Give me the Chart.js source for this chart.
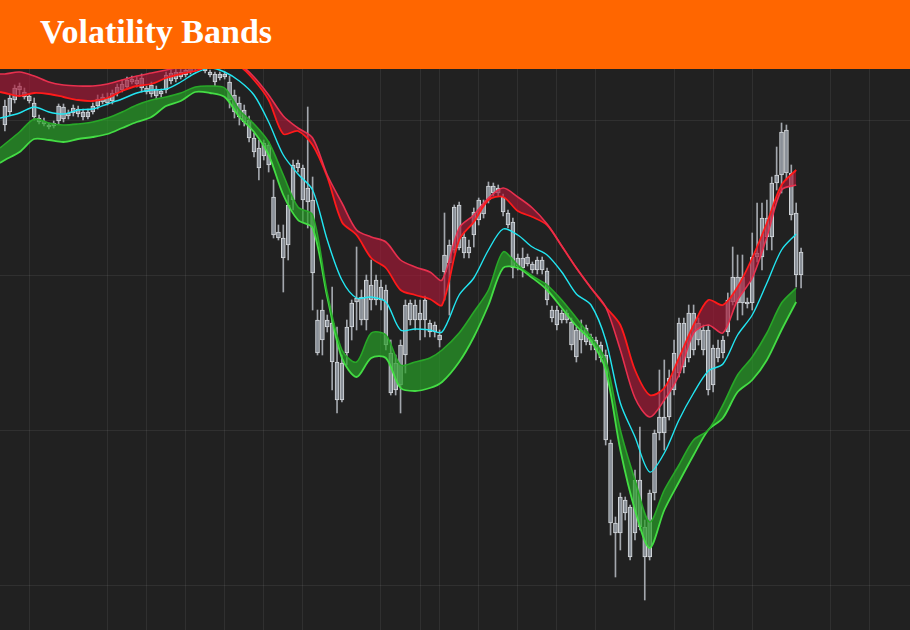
<!DOCTYPE html>
<html>
<head>
<meta charset="utf-8">
<title>Volatility Bands</title>
<script src="https://cdn.jsdelivr.net/npm/chart.js@4.4.1/dist/chart.umd.min.js"></script>
<style>
  html, body { margin: 0; padding: 0; background: #212121; }
  .wrap { position: relative; width: 910px; height: 630px; overflow: hidden; }
  .header { position: absolute; left: 0; top: 0; width: 910px; height: 69px; background: #ff6600; z-index: 2; }
  .header h1 { margin: 0; position: absolute; left: 40px; top: -3px;
    font: bold 34px "Liberation Serif", "Times New Roman", serif; line-height: 69px; color: #fff; }
  canvas { position: absolute; left: 0; top: 0; }
</style>
</head>
<body>
<div class="wrap">
  <div class="header"><h1>Volatility Bands</h1></div>
  <canvas id="chart" width="910" height="630"></canvas>
</div>
<script>
// ===== candles (one per session) =====
const open = [
  89.4, 88.8, 90.0, 91.0, 90.8, 90.4, 89.7, 88.2, 87.9, 87.5,
  87.4, 87.9, 89.3, 88.7, 88.7, 89.1, 88.8, 88.3, 88.8, 89.4,
  89.8, 90.2, 89.9, 90.7, 91.0, 91.3, 91.8, 92.0, 92.2, 91.2,
  90.6, 91.1, 90.6, 91.0, 91.9, 92.1, 92.8, 92.5, 92.8, 93.1,
  93.3, 93.3, 92.8, 92.6, 92.2, 92.6, 91.8, 90.5, 89.7, 89.0,
  88.0, 86.2, 85.2, 84.4, 85.5, 80.3, 76.8, 76.2, 75.5, 80.0,
  83.2, 83.2, 81.2, 80.0, 68.0, 66.0, 68.0, 67.7, 63.8, 60.0,
  64.7, 67.3, 69.8, 70.3, 68.0, 70.0, 70.0, 71.3, 71.0, 64.7,
  63.7, 61.5, 64.5, 68.0, 69.5, 68.7, 68.0, 67.7, 67.5, 66.5,
  72.8, 73.7, 75.0, 75.2, 76.3, 75.3, 76.5, 78.0, 79.6, 80.0,
  80.7, 81.2, 80.3, 78.7, 77.8, 73.4, 74.2, 73.6, 73.6, 73.0,
  74.0, 72.9, 69.0, 69.0, 68.0, 68.7, 67.8, 67.0, 66.0, 67.2,
  66.3, 66.0, 65.5, 64.5, 55.7, 47.7, 46.7, 48.7, 49.3, 46.7,
  52.0, 47.3, 44.3, 50.7, 56.7, 58.3, 58.3, 61.0, 62.7, 67.7,
  64.2, 68.7, 67.7, 67.0, 67.0, 61.5, 64.2, 64.7, 66.8, 69.8,
  72.3, 69.7, 69.8, 69.7, 74.3, 74.3, 78.2, 76.3, 81.7, 82.5,
  87.0, 82.7, 78.7, 72.5
];
const high = [
  90.0, 90.5, 91.5, 91.7, 91.2, 90.6, 90.2, 88.5, 88.2, 87.7,
  87.9, 89.6, 89.6, 89.0, 89.5, 89.4, 89.1, 89.1, 89.7, 90.5,
  90.6, 90.7, 91.0, 91.6, 92.0, 92.3, 92.4, 92.3, 92.6, 91.4,
  91.8, 91.4, 91.1, 92.8, 93.0, 93.2, 93.2, 93.4, 93.8, 94.0,
  94.2, 93.6, 93.0, 92.8, 92.8, 92.8, 92.4, 91.0, 90.3, 89.5,
  88.4, 86.7, 86.0, 86.0, 85.8, 82.0, 77.5, 77.5, 80.5, 84.0,
  84.0, 83.5, 89.3, 82.3, 69.0, 70.0, 68.5, 71.3, 67.3, 64.5,
  68.0, 70.0, 75.3, 71.0, 72.5, 74.0, 72.5, 72.0, 71.5, 66.0,
  64.5, 66.0, 70.0, 70.0, 70.0, 70.0, 70.4, 68.0, 67.8, 67.0,
  78.7, 76.0, 79.5, 79.8, 76.8, 76.0, 79.2, 80.2, 80.0, 81.8,
  81.7, 81.5, 80.6, 79.0, 78.2, 74.6, 75.2, 74.6, 73.8, 74.3,
  74.3, 73.2, 69.4, 69.4, 69.0, 69.0, 68.2, 67.3, 68.0, 67.5,
  66.6, 66.3, 65.8, 65.0, 56.0, 48.3, 50.7, 50.3, 49.5, 53.0,
  57.3, 48.0, 51.0, 57.0, 63.0, 64.0, 63.0, 66.0, 68.2, 68.2,
  69.5, 69.5, 68.2, 67.5, 67.5, 65.5, 66.0, 66.4, 70.7, 75.3,
  74.5, 74.5, 70.2, 76.7, 79.7, 79.7, 80.0, 82.3, 85.3, 87.7,
  87.5, 83.5, 79.7, 75.2
];
const low = [
  86.9, 88.5, 89.7, 90.5, 90.1, 89.7, 88.0, 87.6, 87.4, 87.1,
  87.2, 87.6, 87.8, 88.1, 88.4, 88.3, 88.0, 88.1, 88.6, 89.1,
  89.6, 89.5, 89.6, 90.4, 90.8, 91.1, 91.6, 91.3, 90.8, 90.6,
  90.3, 90.1, 90.3, 90.7, 91.6, 91.8, 92.1, 92.3, 92.6, 92.9,
  93.0, 92.7, 92.3, 91.4, 92.0, 92.1, 89.2, 88.2, 87.5, 87.4,
  85.8, 84.3, 82.0, 84.0, 82.8, 76.2, 76.0, 70.8, 74.0, 79.0,
  82.8, 77.8, 77.2, 69.0, 64.5, 64.5, 66.8, 61.0, 58.7, 59.8,
  63.5, 66.0, 67.0, 67.5, 67.0, 69.0, 69.5, 69.0, 65.0, 60.5,
  60.5, 58.7, 62.7, 67.5, 67.0, 66.0, 66.3, 66.3, 66.3, 65.3,
  70.0, 68.5, 74.7, 75.0, 74.2, 74.2, 75.3, 77.5, 78.2, 79.7,
  80.4, 80.4, 78.4, 77.2, 72.2, 73.0, 72.3, 73.4, 72.7, 72.6,
  72.6, 69.5, 67.8, 67.0, 67.7, 67.7, 65.0, 63.8, 64.7, 65.5,
  65.0, 64.0, 63.8, 55.5, 46.5, 42.3, 45.0, 48.0, 44.0, 46.0,
  47.0, 40.0, 44.0, 50.0, 56.0, 55.0, 58.0, 60.5, 62.3, 62.7,
  63.8, 64.5, 65.5, 64.5, 60.5, 60.8, 63.8, 64.2, 66.4, 69.5,
  68.0, 68.5, 69.2, 69.0, 73.8, 73.0, 75.0, 75.0, 81.0, 80.7,
  82.0, 78.0, 71.3, 71.2
];
const close = [
  87.5, 90.2, 91.2, 91.4, 90.3, 89.9, 88.3, 87.8, 87.6, 87.3,
  87.7, 89.4, 88.1, 88.4, 89.2, 88.6, 88.3, 88.8, 89.4, 90.1,
  90.3, 89.7, 90.7, 91.3, 91.6, 92.0, 92.1, 91.6, 91.2, 90.8,
  91.5, 90.4, 90.9, 92.5, 92.7, 92.8, 92.3, 93.0, 93.4, 93.7,
  93.8, 92.9, 92.5, 91.8, 92.6, 92.3, 90.0, 88.8, 88.3, 87.8,
  86.2, 84.8, 83.2, 85.7, 83.5, 76.5, 76.2, 74.2, 79.5, 83.5,
  83.7, 80.0, 79.8, 72.7, 64.7, 69.0, 67.3, 63.8, 60.0, 63.7,
  67.3, 69.7, 70.2, 68.0, 72.0, 71.5, 72.0, 70.0, 65.5, 60.7,
  61.0, 65.5, 69.5, 69.7, 68.0, 68.0, 70.0, 66.8, 66.8, 66.0,
  74.5, 75.5, 79.3, 79.5, 74.7, 74.7, 78.8, 80.0, 78.6, 81.4,
  81.4, 80.7, 78.8, 77.5, 73.2, 74.2, 73.2, 74.3, 73.0, 74.0,
  73.0, 70.0, 68.2, 67.5, 68.7, 68.0, 65.5, 64.3, 67.0, 65.8,
  65.5, 65.0, 64.2, 56.0, 47.7, 46.7, 50.3, 50.0, 44.3, 52.0,
  47.3, 44.3, 50.7, 56.7, 58.3, 56.7, 62.2, 64.7, 67.7, 63.3,
  68.7, 65.0, 66.0, 65.0, 61.0, 65.2, 65.2, 66.0, 70.0, 72.3,
  69.7, 72.3, 69.6, 74.3, 74.7, 78.2, 76.3, 81.7, 82.5, 86.8,
  82.7, 78.5, 72.5, 74.8
];

// ===== band lines, sampled at these session positions =====
const bandX = [-1, 0, 3, 6, 9, 12, 15, 18, 21, 24, 27, 30, 33, 36, 39, 42, 45, 48, 51, 54,
  57, 60, 63, 66, 69, 72, 75, 78, 81, 84, 87, 89.5, 93, 96, 99, 102, 105, 108, 111, 114,
  117, 120, 123, 126, 129, 132, 135, 138, 141, 144, 147, 150, 153, 156, 159, 162];

const upperOuter = [92.6, 92.6, 92.8, 92.4, 91.8, 91.5, 91.4, 91.4, 91.6, 92.0, 92.4, 92.7, 93.0, 93.3,
  93.6, 93.9, 94.0, 93.6, 92.3, 90.5, 88.4, 87.2, 86.2, 82.5, 79.7, 77.0, 76.3, 75.8, 74.0, 73.3,
  72.8, 72.0, 77.2, 78.5, 80.2, 81.2, 80.3, 79.2, 77.6, 75.4, 73.2, 71.2, 69.3, 65.0, 60.2, 58.3,
  60.0, 62.5, 66.7, 67.5, 66.7, 70.0, 72.2, 76.3, 81.0, 81.5];
const upperInner = [90.8, 90.7, 90.4, 90.7, 90.6, 90.3, 90.0, 89.9, 90.2, 90.9, 91.4, 91.6, 92.2, 92.6,
  92.9, 93.4, 93.7, 93.4, 92.0, 90.0, 86.6, 86.9, 85.5, 82.3, 77.8, 76.5, 74.2, 73.2, 71.0, 70.5,
  70.1, 69.5, 76.0, 77.8, 80.0, 80.3, 78.9, 78.3, 77.5, 75.4, 73.2, 71.2, 69.3, 67.5, 63.0, 60.5,
  61.2, 64.2, 67.5, 70.0, 69.5, 71.3, 74.2, 77.7, 81.5, 83.0];
const middle = [88.2, 88.3, 88.7, 89.3, 88.8, 88.6, 89.0, 89.1, 89.6, 90.1, 90.7, 91.0, 91.1, 91.8,
  92.7, 93.2, 92.8, 91.9, 90.5, 87.8, 84.5, 82.6, 81.0, 76.0, 72.0, 70.2, 70.3, 69.8, 67.0, 67.1,
  67.0, 66.8, 70.5, 72.2, 75.0, 77.1, 76.5, 75.3, 74.5, 72.8, 70.6, 69.5, 66.0, 59.7, 56.3, 52.8,
  54.7, 58.0, 60.7, 62.9, 63.6, 66.5, 68.5, 71.7, 75.0, 76.6];
const lowerInner = [85.2, 85.6, 86.8, 88.1, 87.7, 87.5, 87.6, 87.8, 88.2, 88.8, 89.5, 90.0, 90.3, 90.7,
  91.3, 91.4, 91.2, 89.0, 87.6, 85.8, 82.5, 79.3, 78.5, 70.7, 65.0, 63.8, 66.7, 66.5, 63.5, 63.8,
  64.2, 65.0, 66.7, 68.8, 71.0, 74.8, 73.5, 72.4, 71.5, 70.0, 68.2, 66.3, 64.0, 57.0, 52.0, 47.8,
  51.0, 53.5, 56.0, 57.0, 59.5, 62.5, 64.3, 66.7, 69.7, 71.2];
const lowerOuter = [83.7, 84.0, 84.8, 86.1, 86.0, 85.8, 86.1, 86.3, 86.6, 87.2, 87.8, 88.3, 89.4, 89.9,
  90.8, 90.7, 90.3, 88.3, 86.8, 84.5, 80.5, 78.0, 77.2, 70.3, 64.2, 62.3, 64.2, 64.2, 61.2, 60.9,
  61.2, 61.8, 63.8, 66.3, 69.5, 73.2, 73.2, 72.2, 71.0, 69.2, 67.4, 65.9, 63.0, 55.0, 49.0, 45.2,
  49.0, 51.8, 54.5, 57.0, 58.2, 60.8, 62.0, 64.0, 67.0, 69.8];

// grid positions (sessions / price)
const gridX = [5, 21, 29, 37, 45, 53, 61, 77, 85, 89, 97, 105, 113, 121, 137, 145, 153, 169, 177];
const gridY = [41.5, 57, 72.5, 88];

const pts = (arr) => bandX.map((x, k) => ({ x: x, y: arr[k] }));

const redFill = "rgba(170, 25, 55, 0.65)";
const greenFill = "rgba(40, 160, 40, 0.7)";

function lineSet(label, arr, color, width, fill) {
  return {
    type: "line",
    label: label,
    data: pts(arr),
    borderColor: color,
    borderWidth: width,
    pointRadius: 0,
    tension: 0.3,
    fill: fill,
    order: 0,
  };
}

new Chart(document.getElementById("chart"), {
  type: "bar",
  data: {
    datasets: [
      {
        label: "wick",
        data: open.map((o, i) => ({ x: i, y: [low[i], high[i]] })),
        backgroundColor: "#a3a7ad",
        barThickness: 1,
        grouped: false,
        order: 11,
      },
      {
        label: "body",
        data: open.map((o, i) => ({ x: i, y: [Math.min(o, close[i]), Math.max(o, close[i])] })),
        backgroundColor: "#8a9098",
        borderColor: "#d4d8dc",
        borderWidth: 1,
        borderSkipped: false,
        barThickness: 4,
        grouped: false,
        order: 10,
      },
      lineSet("upper outer", upperOuter, "#e8304e", 1.6, false),
      lineSet("upper inner", upperInner, "#ff1a1a", 1.8, { target: 2, above: redFill, below: redFill }),
      lineSet("middle", middle, "#22e6f2", 1.4, false),
      lineSet("lower inner", lowerInner, "#28a828", 1.6, false),
      lineSet("lower outer", lowerOuter, "#44dd44", 1.8, { target: 5, above: greenFill, below: greenFill }),
    ],
  },
  options: {
    responsive: false,
    animation: false,
    layout: { padding: 0 },
    plugins: {
      legend: { display: false },
      tooltip: { enabled: false },
    },
    scales: {
      x: {
        type: "linear",
        min: -1,
        max: 185.3,
        offset: false,
        afterBuildTicks: (axis) => { axis.ticks = gridX.map((v) => ({ value: v })); },
        ticks: { display: false },
        grid: { color: "rgba(255,255,255,0.07)", drawTicks: false, offset: false },
        border: { display: false },
      },
      y: {
        type: "linear",
        min: 37,
        max: 100,
        afterBuildTicks: (axis) => { axis.ticks = gridY.map((v) => ({ value: v })); },
        ticks: { display: false },
        grid: { color: "rgba(255,255,255,0.07)", drawTicks: false },
        border: { display: false },
      },
    },
  },
});
</script>
</body>
</html>
